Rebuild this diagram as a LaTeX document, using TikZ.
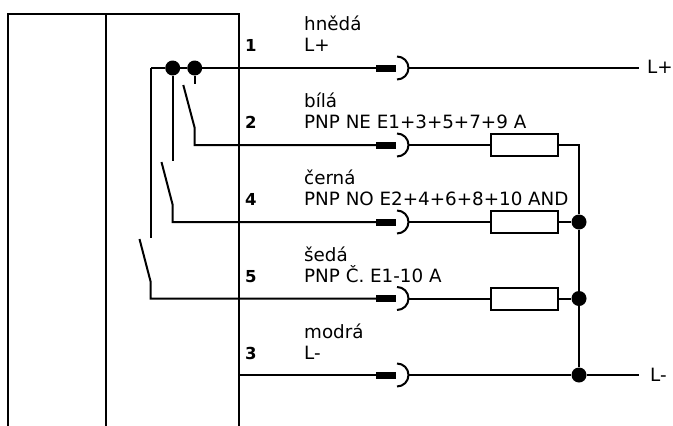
\documentclass[tikz,border=0pt]{standalone}
\usepackage{fontspec}
\setmainfont{DejaVu Sans}
\usetikzlibrary{positioning}
\tikzstyle{wire} = [line width=2pt,color=black]
\tikzstyle{joint} = [circle, fill=black, inner sep=0pt, minimum size=15pt]
\tikzstyle{plugbar} = [rectangle, fill=black, inner sep=0pt, minimum width=20pt, minimum height=7pt]
\tikzstyle{load} = [rectangle, draw=black, line width=2pt, fill=white, inner sep=0pt, minimum width=67pt, minimum height=22pt]
\tikzstyle{pin} = [font=\bfseries\fontsize{16.5}{18}\selectfont, inner sep=0pt, anchor=base west]
\tikzstyle{wirename} = [font=\fontsize{18.3}{20}\selectfont, inner sep=0pt, anchor=base west]
\newcommand{\plugat}[2]{%
\node (#1) [plugbar] at (386,#2) {};
\coordinate (#1in) at (376,#2);
\coordinate (#1out) at (409,#2);
\draw[wire] (397,#2-11.5) arc[start angle=90,end angle=-90,radius=11.5pt] ;
}
\begin{document}
\begin{tikzpicture}[x=1pt,y=-1pt]
\useasboundingbox (0,0) rectangle (673,426);
% Housing
\draw[wire] (8,426) -- (8,14) -- (239,14) -- (239,426);
\draw[wire] (106,14) -- (106,426);
% Plugs
\plugat{plugA}{68}
\plugat{plugB}{145}
\plugat{plugC}{222}
\plugat{plugD}{298.5}
\plugat{plugE}{375}
% Loads
\node (loadB) [load] at (524.5,145) {};
\node (loadC) [load] at (524.5,222) {};
\node (loadD) [load] at (524.5,298.5) {};
% Joints
\node (jointA) [joint] at (172.7,68) {};
\node (jointB) [joint] at (194.7,68) {};
\node (jointC) [joint] at (579,222) {};
\node (jointD) [joint] at (579,298.5) {};
\node (jointE) [joint] at (579,375) {};
% Terminals
\coordinate (endA) at (639,68);
\coordinate (endE) at (639,375);
\coordinate (cornerA) at (150.7,68);
\coordinate (busTop) at (579,145);
% L+ line
\draw[wire] (plugA) -- (jointB) -- (jointA) -- (cornerA);
\draw[wire] (plugAout) -- (endA);
% Switch for pin 2
\coordinate (stubB) at (194.7,84);
\coordinate (bladeB) at (183.3,85);
\coordinate (hingeB) at (194.7,128);
\coordinate (cornerB) at (194.7,145);
\draw[wire] (jointB) -- (stubB);
\draw[wire] (bladeB) -- (hingeB) -- (cornerB) -- (plugB);
% Switch for pin 4
\coordinate (stubC) at (172.7,161);
\coordinate (bladeC) at (161.5,162);
\coordinate (hingeC) at (172.7,205);
\coordinate (cornerC) at (172.7,222);
\draw[wire] (jointA) -- (stubC);
\draw[wire] (bladeC) -- (hingeC) -- (cornerC) -- (plugC);
% Switch for pin 5
\coordinate (stubD) at (150.7,238);
\coordinate (bladeD) at (139.5,239);
\coordinate (hingeD) at (150.7,282);
\coordinate (cornerD) at (150.7,298.5);
\draw[wire] (cornerA) -- (stubD);
\draw[wire] (bladeD) -- (hingeD) -- (cornerD) -- (plugD);
% Pin 3
\coordinate (startE) at (239,375);
\draw[wire] (startE) -- (plugE);
\draw[wire] (plugEout) -- (jointE) -- (endE);
% Outputs
\draw[wire] (plugBout) -- (loadB);
\draw[wire] (plugCout) -- (loadC);
\draw[wire] (plugDout) -- (loadD);
\draw[wire] (loadB) -- (busTop) -- (jointC);
\draw[wire] (loadC) -- (jointC);
\draw[wire] (loadD) -- (jointD);
\draw[wire] (jointC) -- (jointD) -- (jointE);
% Texts
\node (pinA) [pin] at (245,51) {1};
\node (pinB) [pin] at (245,128) {2};
\node (pinC) [pin] at (245,205) {4};
\node (pinD) [pin] at (245,282) {5};
\node (pinE) [pin] at (245,359) {3};
\node (nameA) [wirename] at (304,30) {hnědá};
\node (signalA) [wirename] at (304,51) {L+};
\node (nameB) [wirename] at (304,107) {bílá};
\node (signalB) [wirename] at (304,128) {PNP NE E1+3+5+7+9 A};
\node (nameC) [wirename] at (304,184) {černá};
\node (signalC) [wirename] at (304,205) {PNP NO E2+4+6+8+10 AND};
\node (nameD) [wirename] at (304,261) {šedá};
\node (signalD) [wirename] at (304,282) {PNP Č. E1-10 A};
\node (nameE) [wirename] at (304,338) {modrá};
\node (signalE) [wirename] at (304,359) {L-};
\node (labelA) [wirename] at (647,73) {L+};
\node (labelE) [wirename] at (650,381) {L-};
\end{tikzpicture}
\end{document}
